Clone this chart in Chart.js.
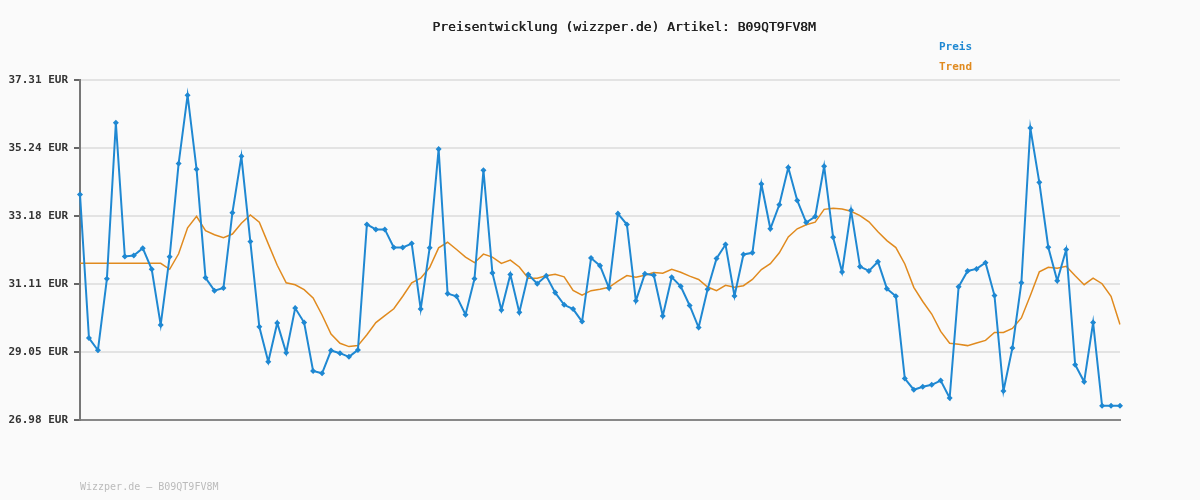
<!DOCTYPE html>
<html><head><meta charset="utf-8">
<script src="https://cdn.jsdelivr.net/npm/chart.js@4"></script>
<style>html,body{margin:0;padding:0;background:#fafafa}#w{width:1200px;height:500px}</style>
</head><body><div id="w"><canvas id="c"></canvas></div>
<script>
const titleText = "Preisentwicklung (wizzper.de) Artikel: B09QT9FV8M";
const footerText = "Wizzper.de – B09QT9FV8M";
const yTicks = [26.98, 29.05, 31.11, 33.18, 35.24, 37.31];
const preis = [33.83,29.47,29.10,31.27,36.01,31.95,31.98,32.20,31.56,29.87,31.94,34.77,36.85,34.60,31.30,30.91,30.99,33.28,34.99,32.40,
29.81,28.75,29.93,29.02,30.38,29.94,28.47,28.40,29.09,29.01,28.90,29.11,32.92,32.77,32.77,32.22,32.22,32.34,30.35,32.21,
35.21,30.82,30.74,30.18,31.27,34.57,31.45,30.32,31.40,30.25,31.40,31.12,31.36,30.85,30.48,30.35,29.97,31.90,31.67,30.99,
33.25,32.92,30.60,31.42,31.38,30.14,31.32,31.04,30.46,29.79,30.95,31.89,32.31,30.75,32.01,32.06,34.15,32.79,33.52,34.65,
33.65,32.98,33.16,34.69,32.53,31.48,33.35,31.64,31.51,31.79,30.97,30.74,28.24,27.90,27.99,28.05,28.18,27.65,31.03,31.51,
31.57,31.76,30.76,27.86,29.17,31.15,35.85,34.20,32.23,31.21,32.16,28.66,28.14,29.94,27.41,27.41,27.41];
const trend = [31.74,31.74,31.74,31.74,31.74,31.74,31.74,31.74,31.74,31.74,31.56,32.03,32.82,33.17,32.73,32.61,32.52,32.63,32.96,33.21,
32.99,32.33,31.68,31.15,31.09,30.94,30.69,30.17,29.59,29.31,29.21,29.24,29.57,29.94,30.15,30.36,30.74,31.15,31.29,31.61,
32.21,32.38,32.16,31.93,31.76,32.02,31.93,31.74,31.84,31.63,31.29,31.29,31.36,31.41,31.33,30.92,30.77,30.91,30.95,31.01,
31.20,31.37,31.32,31.38,31.46,31.44,31.56,31.47,31.35,31.25,31.02,30.91,31.07,31.01,31.06,31.25,31.55,31.73,32.06,32.54,
32.79,32.91,32.99,33.38,33.41,33.39,33.32,33.19,33.00,32.70,32.43,32.22,31.72,31.01,30.58,30.20,29.67,29.31,29.28,29.24,
29.32,29.40,29.64,29.64,29.76,30.08,30.76,31.48,31.62,31.59,31.65,31.36,31.09,31.29,31.12,30.74,29.88];
const labels = preis.map((_, i) => String(i + 1));
const mono = "'DejaVu Sans Mono', monospace";
const deco = {
  id: 'deco',
  afterDraw(chart) {
    const ctx = chart.ctx;
    ctx.save();
    ctx.textBaseline = 'middle';
    ctx.fillStyle = '#222';
    ctx.font = "13px " + mono;
    ctx.textAlign = 'center';
    ctx.fillText(titleText, 624, 28);
    ctx.fillText(titleText, 624.4, 28);
    ctx.textAlign = 'left';
    ctx.font = "bold 11px " + mono;
    chart.data.datasets.forEach((d, i) => {
      ctx.fillStyle = d.borderColor;
      ctx.fillText(d.label, 939, 47 + i * 20);
    });
    ctx.font = "10px " + mono;
    ctx.fillStyle = '#bbb';
    ctx.fillText(footerText, 80, 487);
    ctx.restore();
  }
};
new Chart(document.getElementById('c'), {
  type: 'line',
  data: { labels, datasets: [
    { label: 'Preis', data: preis, borderColor: '#1f88d2', backgroundColor: '#1f88d2', borderWidth: 2,
      pointStyle: 'rectRot', pointRadius: 1.6, pointHoverRadius: 1.6, tension: 0 },
    { label: 'Trend', data: trend, borderColor: '#e08a1e', backgroundColor: '#e08a1e', borderWidth: 1.5,
      pointRadius: 0, tension: 0 }
  ]},
  options: {
    responsive: true, maintainAspectRatio: false, animation: false,
    layout: { padding: { top: 80, right: 80, bottom: 72, left: 0 } },
    plugins: { legend: { display: false }, title: { display: false }, tooltip: { enabled: false } },
    scales: {
      x: { offset: false, ticks: { display: false }, grid: { display: false },
           border: { display: true, color: '#888', width: 2 } },
      y: { min: 26.98, max: 37.31,
           afterBuildTicks: s => { s.ticks = yTicks.map(v => ({ value: v })); },
           afterFit: s => { s.width = 80; },
           ticks: { color: '#333', font: { family: mono, size: 11, weight: 'bold' }, padding: 6,
                    callback: v => v.toFixed(2) + ' EUR' },
           grid: { color: '#e3e3e3', lineWidth: 2, drawTicks: true, tickLength: 6, tickColor: '#666' },
           border: { display: true, color: '#777', width: 2 } }
    }
  },
  plugins: [deco]
});
</script></body></html>
